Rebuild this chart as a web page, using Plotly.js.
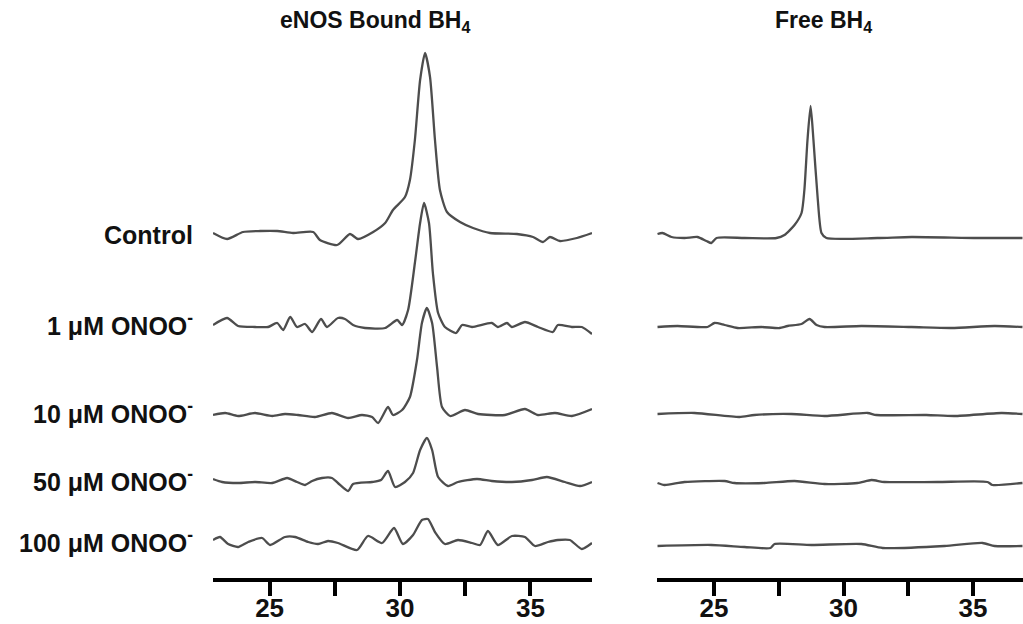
<!DOCTYPE html>
<html>
<head>
<meta charset="utf-8">
<script src="https://cdn.plot.ly/plotly-3.0.1.min.js"></script>
<style>html,body{margin:0;padding:0;background:#fff;}#chart{width:1023px;height:624px;}</style>
</head>
<body>
<div id="chart"></div>
<script>
// ---------- data (retention time in min, detector signal relative to each trace's baseline) ----------
var panelTitles = ["eNOS Bound BH<sub>4</sub>", "Free BH<sub>4</sub>"];
var traceLabels = ["Control", "1 μM ONOO<sup>-</sup>", "10 μM ONOO<sup>-</sup>", "50 μM ONOO<sup>-</sup>", "100 μM ONOO<sup>-</sup>"];
var tickVals = [25, 30, 35];
var tickText = ["25", "30", "35"];
var minorTickVals = [27.5, 32.5];

// eNOS bound BH4
var boundControlT = [22.83,23.37,23.98,24.64,25.29,25.90,26.67,26.93,27.59,28.08,28.39,28.97,29.43,29.73,30.19,30.38,30.57,30.77,30.96,31.15,31.34,31.53,31.80,32.30,32.80,33.45,34.48,35.10,35.48,35.75,36.13,36.78,37.36];
var boundControlS = [4,-2,5,6,6,4,5,-3,-8,3,-2,5,14,27,40,57,97,157,184,160,97,47,25,15,9,4,3,0,-5,0,-4,-1,4];

var bound1T = [22.83,23.37,23.79,24.44,24.94,25.29,25.52,25.79,26.05,26.36,26.63,26.97,27.20,27.62,27.89,28.20,28.66,29.43,29.89,30.08,30.31,30.57,30.77,30.92,31.11,31.26,31.46,31.72,32.15,32.38,32.76,33.52,33.75,34.10,34.29,34.79,35.29,35.86,36.05,36.59,36.97,37.36];
var bound1S = [1,8,0,-1,-1,3,-4,9,-1,2,-6,7,-1,8,7,1,-2,-2,6,1,16,63,103,123,103,53,13,-1,-7,1,-1,3,-1,3,-1,4,-1,-6,1,-1,-1,-8];

var bound10T = [22.83,23.30,23.79,24.44,25.10,25.59,26.09,26.74,27.39,28.01,28.54,28.93,29.16,29.54,29.73,30.08,30.38,30.65,30.84,31.03,31.23,31.42,31.61,31.92,32.49,32.99,34.02,34.79,35.29,35.94,36.59,37.36];
var bound10S = [-1,1,-2,1,-2,0,-1,-3,1,-4,-1,-3,-9,7,-1,4,17,54,91,106,91,47,7,-2,4,0,-1,5,-1,1,-2,5];

var bound50T = [22.83,23.18,23.79,24.44,25.10,25.67,26.05,26.36,26.63,27.01,27.39,27.62,28.01,28.20,28.93,29.27,29.54,29.81,30.19,30.50,30.77,31.03,31.23,31.46,31.84,32.22,32.95,33.52,34.29,35.06,35.63,36.32,36.90,37.36];
var bound50S = [3,0,-1,0,-1,4,0,-3,1,4,4,-1,-9,-2,0,2,11,-5,0,9,32,44,32,5,-4,0,3,1,0,2,5,0,-4,0];

var bound100T = [22.83,23.10,23.41,23.79,24.18,24.71,25.02,25.59,25.98,26.48,26.86,27.24,27.62,28.35,28.77,29.31,29.77,30.11,30.50,30.84,31.07,31.34,31.72,32.22,32.76,33.07,33.37,33.75,34.29,34.79,35.17,35.67,36.05,36.51,36.97,37.36];
var bound100S = [3,6,-1,-4,1,5,-2,6,6,1,-1,2,0,-7,7,0,15,-1,8,23,24,11,-1,3,0,-2,12,-2,7,6,-3,1,3,3,-6,0];

// Free BH4
var freeControlT = [22.82,23.01,23.36,23.86,24.36,24.71,24.90,25.10,26.18,27.41,27.72,28.11,28.38,28.49,28.61,28.73,28.84,29.00,29.15,29.34,31.31,32.63,35.17,36.91];
var freeControlS = [4,5,1,0,1,-3,-5,0,0,0,3,13,25,48,98,132,98,41,5,0,0,1,0,0];

var free1T = [22.82,23.59,24.75,25.02,25.41,25.91,26.83,27.53,27.84,28.38,28.69,28.96,29.27,30.69,32.63,34.17,35.83,36.91];
var free1S = [0,1,0,4,2,-1,0,-1,1,3,8,2,0,1,0,-1,1,0];

var free10T = [22.82,24.25,25.98,26.56,27.99,29.27,30.93,31.27,33.20,34.29,36.10,36.91];
var free10S = [0,1,-3,-1,0,-2,1,-1,-1,-2,1,0];

var free50T = [22.82,23.09,23.86,25.41,25.79,26.95,28.11,29.27,30.54,31.08,31.58,33.63,35.56,35.75,36.91];
var free50S = [0,-2,1,2,0,0,2,-1,0,3,1,1,1,-2,0];

var free100T = [22.82,24.90,26.18,27.18,27.34,28.76,30.69,31.51,33.90,35.37,35.83,36.91];
var free100S = [0,1,-1,-2,2,1,2,-2,0,3,0,0];

// ---------- layout / styling ----------
var boundSets = [[boundControlT,boundControlS],[bound1T,bound1S],[bound10T,bound10S],[bound50T,bound50S],[bound100T,bound100S]];
var freeSets  = [[freeControlT,freeControlS],[free1T,free1S],[free10T,free10S],[free50T,free50S],[free100T,free100S]];
var boundOffsets = [341, 252, 164, 96, 35];
var freeOffsets  = [340, 251, 164, 95, 32];

var lineStyle = {color:'#4d4d4d', width:2.3, shape:'spline', smoothing:0.6};
var traces = [];
function addSet(sets, offsets, xa){
  sets.forEach(function(s, i){
    traces.push({
      x: s[0],
      y: s[1].map(function(v){ return v + offsets[i]; }),
      type:'scatter', mode:'lines', xaxis:xa, yaxis:'y',
      line: lineStyle, hoverinfo:'skip', showlegend:false
    });
  });
}
addSet(boundSets, boundOffsets, 'x');
addSet(freeSets, freeOffsets, 'x2');

var W = 1023;
var fam = 'Liberation Sans, Arial, sans-serif';
var tickFont = {family:fam, size:26, color:'#111', weight:'bold'};
var titleFont = {family:fam, size:23, color:'#111', weight:'bold'};
var labelFont = {family:fam, size:25, color:'#111', weight:'bold'};

function xAxis(domain, range){
  return {
    domain: domain, range: range, anchor:'y',
    showline:true, linecolor:'#000', linewidth:4, mirror:false,
    showgrid:false, zeroline:false,
    ticks:'outside', ticklen:14, tickwidth:4, tickcolor:'#000',
    tickmode:'array', tickvals: tickVals, ticktext: tickText,
    minor:{ticks:'outside', tickmode:'array', tickvals:minorTickVals, ticklen:14, tickwidth:4, tickcolor:'#000', showgrid:false},
    ticklabelstandoff:-10,
    tickfont: tickFont, fixedrange:true
  };
}

var annotations = [];
annotations.push({text:'<b>'+panelTitles[0]+'</b>', xref:'paper', yref:'paper', x:375/W, y:(578-21)/533, xanchor:'center', yanchor:'middle', showarrow:false, font:titleFont});
annotations.push({text:'<b>'+panelTitles[1]+'</b>', xref:'paper', yref:'paper', x:823/W, y:(578-21)/533, xanchor:'center', yanchor:'middle', showarrow:false, font:titleFont});
traceLabels.forEach(function(lbl, i){
  annotations.push({text:'<b>'+lbl+'</b>', xref:'paper', yref:'y', x:195/W, y:boundOffsets[i]+2, xanchor:'right', yanchor:'middle', showarrow:false, font:labelFont});
});

var layout = {
  width: 1023, height: 624,
  margin: {l:0, r:0, t:45, b:46, pad:0},
  paper_bgcolor:'#fff', plot_bgcolor:'#fff',
  xaxis: xAxis([213/W, 592/W], [22.83, 37.36]),
  xaxis2: xAxis([657/W, 1], [22.8, 36.93]),
  yaxis: {range:[0,533], visible:false, fixedrange:true},
  annotations: annotations,
  showlegend:false
};

Plotly.newPlot('chart', traces, layout, {displayModeBar:false, staticPlot:true});
</script>
</body>
</html>
